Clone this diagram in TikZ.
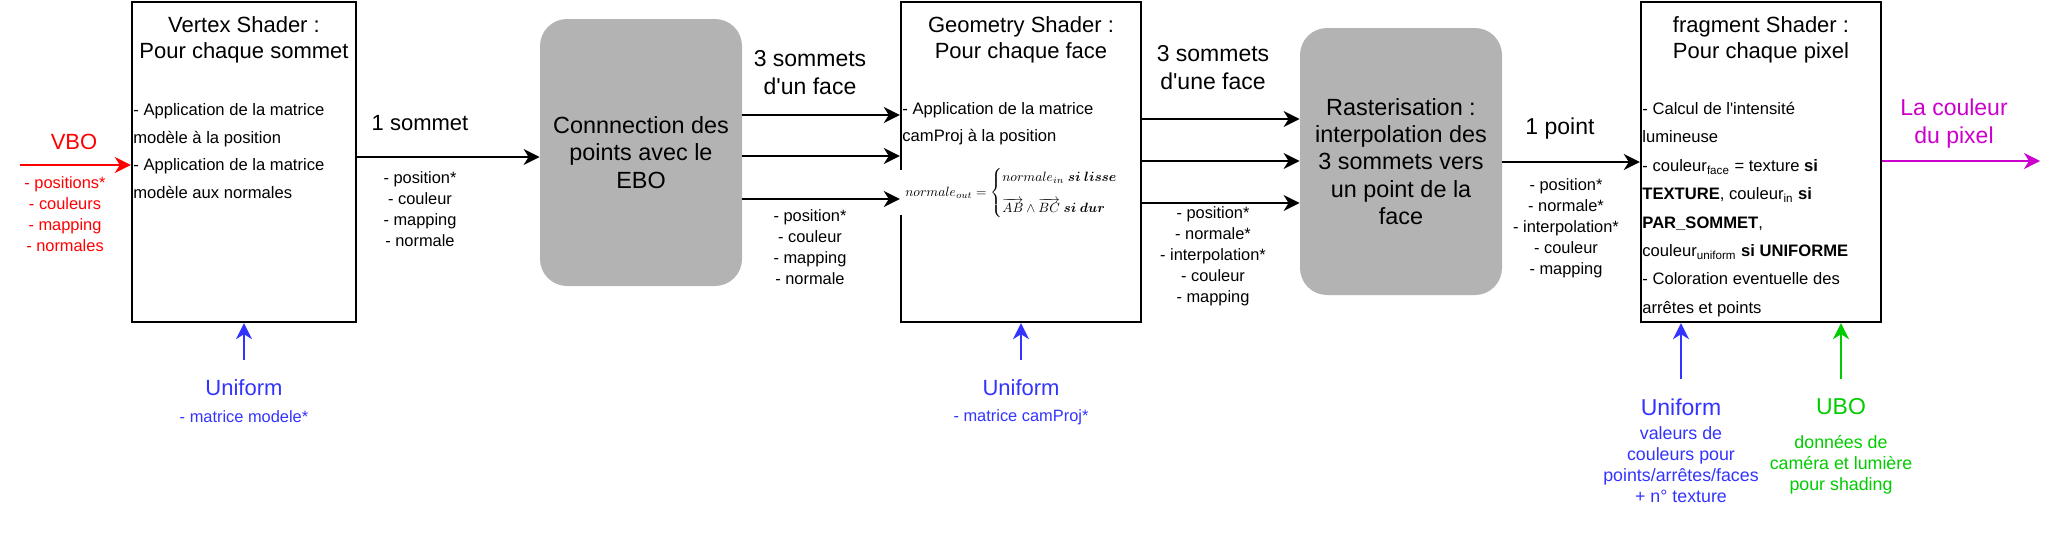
\documentclass[tikz,border=0pt]{standalone}
\usepackage{amsmath,bm,graphicx}
\usepackage[no-math]{fontspec}
\setmainfont{Liberation Sans}
\usetikzlibrary{arrows.meta}
\definecolor{ublue}{HTML}{3333FF}
\definecolor{ugreen}{HTML}{00CC00}
\definecolor{umag}{HTML}{CC00CC}
\definecolor{ebogrey}{HTML}{B3B3B3}
\begin{document}
\begin{tikzpicture}[x=0.5pt,y=-0.5pt,
  shader/.style={draw, line width=1.2pt, minimum width=#1, minimum height=160pt, inner sep=0},
  stage/.style={fill=ebogrey, rounded corners=13.5pt, minimum width=101pt, minimum height=133.5pt, inner sep=0, align=center, font=\fontsize{11.7}{13.6}\selectfont},
  title/.style={align=center, inner sep=0, font=\fontsize{11}{13}\selectfont},
  body/.style={align=left, anchor=west, inner sep=0, font=\fontsize{8.3}{13.7}\selectfont},
  lab/.style={align=center, inner sep=0, font=\fontsize{8.2}{10.5}\selectfont},
  big/.style={align=center, inner sep=0, font=\fontsize{11.5}{14}\selectfont},
  small/.style={align=center, inner sep=0, font=\fontsize{8.9}{10.4}\selectfont},
  arr/.style={line width=1pt, -{Stealth[length=8pt,width=8pt,inset=2.5pt]}}]
\useasboundingbox (0,0) rectangle (2058,552);

% --- boxes
\node[shader=112pt] (vs) at (244,162) {};
\node[stage] (ebo) at (641,152.5) {Connnection des\\points avec le\\EBO};
\node[shader=120pt] (gs) at (1021,162) {};
\node[stage] (rs) at (1401,161.5) {Rasterisation :\\interpolation des\\3 sommets vers\\un point de la\\face};
\node[shader=120pt] (fs) at (1761,162) {};

% --- box texts
\node[title] (vst) at (244,40) {Vertex Shader :\\Pour chaque sommet};
\node[body] (vsb) at (133,151) {- Application de la matrice\\mod\`ele \`a la position\\- Application de la matrice\\mod\`ele aux normales};

\node[title] (gst) at (1021,40) {Geometry Shader :\\Pour chaque face};
\node[body] (gsb) at (902,124) {- Application de la matrice\\camProj \`a la position};
\fill[white] (895,170) rectangle (907,215);
\node[anchor=west, inner sep=0, font=\fontsize{10}{12}\selectfont] (gsf) at (905,193)
  {\resizebox{113pt}{!}{$normale_{out} = \begin{cases} normale_{in}\ \bm{si\ lisse}\\[8pt] \overrightarrow{AB}\wedge\overrightarrow{BC}\ \bm{si\ dur}\end{cases}$}};

\node[title] (fst) at (1761,40) {fragment Shader :\\Pour chaque pixel};
\node[body, font=\fontsize{8.3}{14.2}\selectfont] (fsb) at (1642,209.5) {- Calcul de l\textquotesingle intensit\'e\\lumineuse\\- couleur\textsubscript{face} = texture \textbf{si}\\\textbf{TEXTURE}, couleur\textsubscript{in} \textbf{si}\\\textbf{PAR\_SOMMET},\\couleur\textsubscript{uniform} \textbf{si UNIFORME}\\- Coloration eventuelle des\\arr\^etes et points};

% --- inputs
\coordinate (vboin) at (20,165);
\draw[arr, red] (vboin) -- (vboin -| vs.west);
\node[title, red] (vbo) at (74,142) {VBO};
\node[lab, red] (vbol) at (65,214.5) {- positions*\\- couleurs\\- mapping\\- normales};

% --- connectors
\draw[arr] (vs.east |- 0,157) -- (ebo.west |- 0,157);
\node[title] (l1) at (420,123) {1 sommet};
\node[lab] (l1b) at (420,209.5) {- position*\\- couleur\\- mapping\\- normale};

\draw[arr] (ebo.east |- 0,115) -- (gs.west |- 0,115);
\draw[arr] (ebo.east |- 0,156) -- (gs.west |- 0,156);
\draw[arr] (ebo.east |- 0,199) -- (gs.west |- 0,199);
\node[big] (l2) at (810,73) {3 sommets\\d\textquotesingle un face};
\node[lab] (l2b) at (810,247) {- position*\\- couleur\\- mapping\\- normale};

\draw[arr] (gs.east |- 0,119) -- (rs.west |- 0,119);
\draw[arr] (gs.east |- 0,161) -- (rs.west |- 0,161);
\draw[arr] (gs.east |- 0,203) -- (rs.west |- 0,203);
\node[big] (l3) at (1213,67.5) {3 sommets\\d\textquotesingle une face};
\node[lab] (l3b) at (1213,256.5) {- position*\\- normale*\\- interpolation*\\- couleur\\- mapping};

\draw[arr] (rs.east |- 0,162) -- (fs.west |- 0,162);
\node[big] (l4) at (1560,129) {1 point};
\node[lab] (l4b) at (1566,228.5) {- position*\\- normale*\\- interpolation*\\- couleur\\- mapping};

\coordinate (pix) at (2040,161);
\draw[arr, umag] (fs.east |- pix) -- (pix);
\node[big, umag] (l5) at (1954,124) {La couleur\\du pixel};

% --- uniforms
\coordinate (u1) at (244,360);
\draw[arr, ublue] (u1) -- (u1 |- vs.south);
\node[title, ublue] (u1t) at (244,388) {Uniform};
\node[lab, ublue] (u1l) at (244,417) {- matrice modele*};

\coordinate (u2) at (1021,360);
\draw[arr, ublue] (u2) -- (u2 |- gs.south);
\node[title, ublue] (u2t) at (1021,388) {Uniform};
\node[lab, ublue] (u2l) at (1021,417) {- matrice camProj*};

\coordinate (u3) at (1681,379);
\draw[arr, ublue] (u3) -- (u3 |- fs.south);
\node[big, ublue] (u3t) at (1681,407) {Uniform};
\node[small, ublue] (u3l) at (1681,464.5) {valeurs de\\couleurs pour\\points/arr\^etes/faces\\+ n\textdegree{} texture};

\coordinate (ubo) at (1841,379);
\draw[arr, ugreen] (ubo) -- (ubo |- fs.south);
\node[big, ugreen] (ubot) at (1841,407) {UBO};
\node[small, ugreen] (ubol) at (1841,464.5) {donn\'ees de\\cam\'era et lumi\`ere\\pour shading};
\end{tikzpicture}
\end{document}
